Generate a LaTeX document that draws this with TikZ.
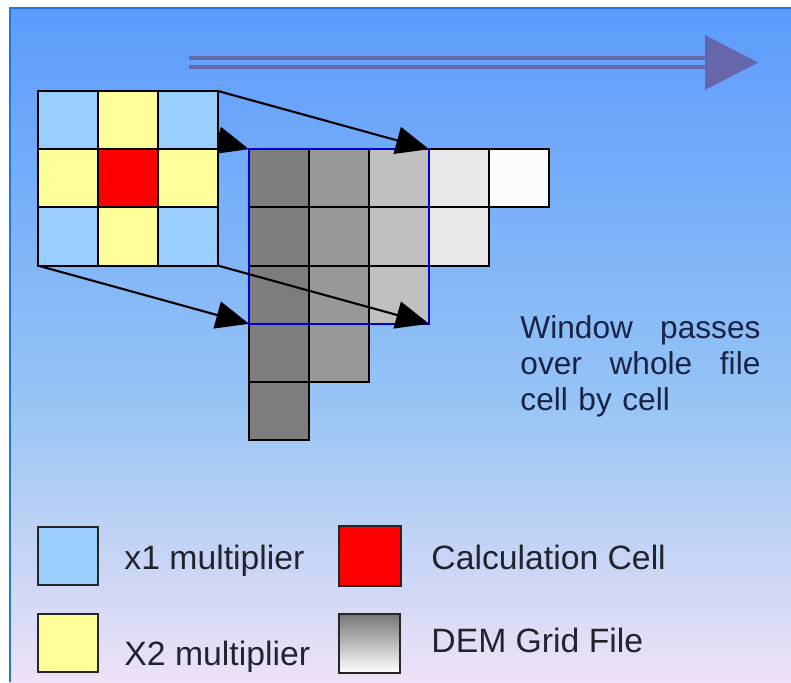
\documentclass[tikz,border=0pt]{standalone}
\usepackage{fontspec}
\setmainfont{Liberation Sans}
\usepackage{tikz}
\usetikzlibrary{calc,arrows.meta}
\usepackage{xcolor}

\definecolor{bgtop}{RGB}{92,155,252}
\definecolor{bgmid}{RGB}{150,196,245}
\definecolor{bgbot}{RGB}{238,226,246}
\definecolor{frameblue}{RGB}{35,120,215}
\definecolor{movearrow}{RGB}{102,102,170}
\definecolor{onecell}{RGB}{153,204,255}
\definecolor{twocell}{RGB}{255,255,153}
\definecolor{calccell}{RGB}{255,0,0}
\definecolor{windowblue}{RGB}{0,0,215}
\definecolor{demA}{RGB}{125,125,125}
\definecolor{demB}{RGB}{152,152,152}
\definecolor{demC}{RGB}{192,192,192}
\definecolor{demD}{RGB}{232,232,232}
\definecolor{demE}{RGB}{252,252,252}
\definecolor{textnavy}{RGB}{25,35,70}
\definecolor{legendtext}{RGB}{35,35,45}

\tikzset{
  cellline/.style={draw=black, line width=1pt},
  passarrow/.style={black, line width=1pt, -{Triangle[length=5.5mm,width=4.6mm]}},
  legendbox/.style={draw=black!85, line width=1.1pt},
  legendlabel/.style={anchor=base west, inner sep=0pt, text=legendtext, font=\fontsize{16}{19}\selectfont}
}

\begin{document}
\begin{tikzpicture}[scale=1]

\useasboundingbox (0,0) rectangle (13.1833,11.3667);
\fill[white] (0,0) rectangle (13.1833,11.3667);

% background
\shade[top color=bgtop, bottom color=bgmid] (0.1667,4.7) rectangle (13.1833,11.2333);
\shade[top color=bgmid, bottom color=bgbot] (0.1667,0) rectangle (13.1833,4.7);
\draw[frameblue, line width=1.2pt] (0.1667,0) -- (0.1667,11.2333) -- (13.1833,11.2333);

% direction of the moving window
\coordinate (m1) at (3.15,10.325);
\coordinate (m2) at (11.8,10.325);
\coordinate (mtip) at (12.633,10.325);
\draw[movearrow, line width=2pt] ($(m1)+(0,0.075)$) -- ($(m2)+(0,0.075)$);
\draw[movearrow, line width=2pt] ($(m1)+(0,-0.075)$) -- ($(m2)+(0,-0.075)$);
\fill[movearrow] (11.75,10.783) -- (mtip) -- (11.75,9.867) -- cycle;

% corners
\coordinate (gtl) at (0.633,9.85);
\coordinate (gtr) at (3.633,9.85);
\coordinate (gbl) at (0.633,6.94);
\coordinate (gbr) at (3.633,6.94);
\coordinate (wtl) at (4.15,8.88);
\coordinate (wtr) at (7.15,8.88);
\coordinate (wbl) at (4.15,5.97);
\coordinate (wbr) at (7.15,5.97);

\draw[passarrow] (gtl) -- (wtl);

% 3x3 window
\draw[cellline, fill=onecell]  (0.633,9.85) rectangle ++(1,-0.97);
\draw[cellline, fill=twocell]  (1.633,9.85) rectangle ++(1,-0.97);
\draw[cellline, fill=onecell]  (2.633,9.85) rectangle ++(1,-0.97);
\draw[cellline, fill=twocell]  (0.633,8.88) rectangle ++(1,-0.97);
\draw[cellline, fill=calccell] (1.633,8.88) rectangle ++(1,-0.97);
\draw[cellline, fill=twocell]  (2.633,8.88) rectangle ++(1,-0.97);
\draw[cellline, fill=onecell]  (0.633,7.91) rectangle ++(1,-0.97);
\draw[cellline, fill=twocell]  (1.633,7.91) rectangle ++(1,-0.97);
\draw[cellline, fill=onecell]  (2.633,7.91) rectangle ++(1,-0.97);

% DEM grid
\draw[cellline, fill=demA] (4.15,8.88) rectangle ++(1,-0.97);
\draw[cellline, fill=demB] (5.15,8.88) rectangle ++(1,-0.97);
\draw[cellline, fill=demC] (6.15,8.88) rectangle ++(1,-0.97);
\draw[cellline, fill=demD] (7.15,8.88) rectangle ++(1,-0.97);
\draw[cellline, fill=demE] (8.15,8.88) rectangle ++(1,-0.97);
\draw[cellline, fill=demA] (4.15,7.91) rectangle ++(1,-0.97);
\draw[cellline, fill=demB] (5.15,7.91) rectangle ++(1,-0.97);
\draw[cellline, fill=demC] (6.15,7.91) rectangle ++(1,-0.97);
\draw[cellline, fill=demD] (7.15,7.91) rectangle ++(1,-0.97);
\draw[cellline, fill=demA] (4.15,6.94) rectangle ++(1,-0.97);
\draw[cellline, fill=demB] (5.15,6.94) rectangle ++(1,-0.97);
\draw[cellline, fill=demC] (6.15,6.94) rectangle ++(1,-0.97);
\draw[cellline, fill=demA] (4.15,5.97) rectangle ++(1,-0.97);
\draw[cellline, fill=demB] (5.15,5.97) rectangle ++(1,-0.97);
\draw[cellline, fill=demA] (4.15,5.00) rectangle ++(1,-0.97);

\draw[windowblue, line width=1.2pt] (wtl) rectangle (wbr);

\draw[passarrow] (gtr) -- (wtr);
\draw[passarrow] (gbl) -- (wbl);
\draw[passarrow] (gbr) -- (wbr);

\node[anchor=base west, inner sep=0pt, text=textnavy, align=left,
      font=\fontsize{15}{17.1}\selectfont, text width=4cm] (passtext) at (8.667,5.72)
      {Window\hfill passes\\ over\hfill whole\hfill file\\ cell by cell};

% legend
\draw[legendbox, fill=onecell]  (0.633,1.617) rectangle (1.633,2.583);
\draw[legendbox, fill=calccell] (5.65,1.6) rectangle (6.683,2.6);
\draw[legendbox, fill=twocell]  (0.633,0.167) rectangle (1.633,1.133);
\shade[top color=demA!95!black, bottom color=white] (5.65,0.15) rectangle (6.667,1.133);
\draw[legendbox] (5.65,0.15) rectangle (6.667,1.133);

\node[legendlabel] (onelab)  at (2.067,1.867) {x1 multiplier};
\node[legendlabel] (calclab) at (7.183,1.867) {Calculation Cell};
\node[legendlabel] (twolab)  at (2.067,0.283) {X2 multiplier};
\node[legendlabel] (demlab)  at (7.183,0.5) {DEM Grid File};

\end{tikzpicture}
\end{document}
